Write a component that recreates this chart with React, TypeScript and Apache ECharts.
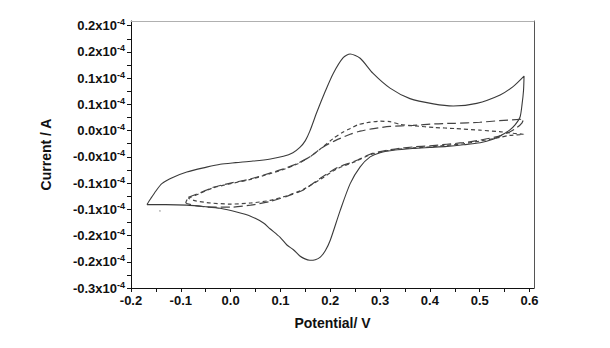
import React, { useEffect, useRef } from "react";
import * as echarts from "echarts";

// Tick positions and labels (current in units of 1e-4 A)
const X_TICKS = [-0.2, -0.1, 0.0, 0.1, 0.2, 0.3, 0.4, 0.5, 0.6];
const X_LABELS = ["-0.2", "-0.1", "0.0", "0.1", "0.2", "0.3", "0.4", "0.5", "0.6"];
const Y_TICKS = [0.225, 0.175, 0.125, 0.075, 0.025, -0.025, -0.075, -0.125, -0.175, -0.225, -0.275];
const Y_LABELS = ["0.2", "0.2", "0.1", "0.1", "0.0", "-0.0", "-0.1", "-0.1", "-0.2", "-0.2", "-0.3"];

// Solid CV loop
const SOLID_X = [
  -0.168, -0.160, -0.150, -0.138, -0.115, -0.088, -0.050, -0.021, 0.010, 0.045, 0.080, 0.106, 0.125, 0.139, 0.150,
  0.159, 0.173, 0.190, 0.206, 0.226, 0.240, 0.260, 0.286, 0.320, 0.360, 0.407, 0.447, 0.494, 0.541, 0.567, 0.589,
  0.588, 0.585, 0.581, 0.571, 0.560, 0.547, 0.525, 0.501, 0.467, 0.434, 0.400, 0.366, 0.330, 0.300, 0.280, 0.260,
  0.240, 0.220, 0.200, 0.190, 0.180, 0.170, 0.159, 0.148, 0.139, 0.126, 0.113, 0.099, 0.079, 0.066, 0.040, 0.012,
  -0.021, -0.050, -0.088, -0.130, -0.168,
];
const SOLID_Y = [
  -0.116, -0.104, -0.090, -0.076, -0.064, -0.054, -0.045, -0.039, -0.036, -0.033, -0.029, -0.024, -0.017, -0.007, 0.006,
  0.024, 0.060, 0.100, 0.134, 0.164, 0.171, 0.163, 0.134, 0.106, 0.086, 0.076, 0.072, 0.077, 0.093, 0.109, 0.129,
  0.102, 0.075, 0.051, 0.036, 0.026, 0.018, 0.008, 0.002, -0.002, -0.005, -0.007, -0.009, -0.012, -0.017, -0.025, -0.044,
  -0.076, -0.127, -0.184, -0.204, -0.216, -0.221, -0.222, -0.219, -0.214, -0.202, -0.193, -0.178, -0.162, -0.151, -0.138, -0.130,
  -0.123, -0.120, -0.117, -0.116, -0.116,
];

// Short-dash CV loop
const SHORT_X = [
  -0.085, -0.060, -0.035, 0.000, 0.040, 0.079, 0.106, 0.135, 0.159, 0.180, 0.206, 0.225, 0.240, 0.255, 0.273, 0.300,
  0.320, 0.340, 0.370, 0.410, 0.450, 0.500, 0.540, 0.567, 0.588,
  0.575, 0.560, 0.540, 0.500, 0.467, 0.434, 0.400, 0.366, 0.330, 0.300, 0.280, 0.250, 0.213, 0.180, 0.146, 0.110,
  0.079, 0.040, 0.000, -0.040, -0.070, -0.085,
];
const SHORT_Y = [
  -0.104, -0.094, -0.084, -0.076, -0.068, -0.057, -0.049, -0.038, -0.025, -0.010, 0.010, 0.022, 0.029, 0.036, 0.040, 0.043,
  0.042, 0.037, 0.034, 0.031, 0.029, 0.026, 0.023, 0.020, 0.018,
  0.017, 0.016, 0.012, 0.005, 0.000, -0.003, -0.006, -0.008, -0.011, -0.016, -0.021, -0.034, -0.048, -0.068, -0.087, -0.100,
  -0.108, -0.113, -0.115, -0.113, -0.109, -0.104,
];

// Long-dash CV loop
const LONG_X = [
  -0.085, -0.060, -0.035, 0.000, 0.040, 0.079, 0.106, 0.135, 0.159, 0.186, 0.210, 0.240, 0.260, 0.287, 0.320, 0.366,
  0.410, 0.450, 0.500, 0.540, 0.588,
  0.585, 0.575, 0.561, 0.541, 0.501, 0.467, 0.434, 0.400, 0.367, 0.330, 0.300, 0.280, 0.250, 0.213, 0.180, 0.146,
  0.110, 0.079, 0.040, 0.000, -0.040, -0.070, -0.090, -0.085,
];
const LONG_Y = [
  -0.102, -0.093, -0.083, -0.075, -0.067, -0.056, -0.048, -0.037, -0.025, -0.006, 0.006, 0.018, 0.024, 0.029, 0.033, 0.035,
  0.038, 0.039, 0.041, 0.044, 0.047,
  0.040, 0.031, 0.023, 0.015, 0.007, 0.002, -0.001, -0.004, -0.006, -0.010, -0.015, -0.020, -0.033, -0.046, -0.066, -0.088,
  -0.101, -0.110, -0.117, -0.121, -0.121, -0.118, -0.112, -0.102,
];

const STRAY_X = [-0.142];
const STRAY_Y = [-0.128];

const zip = (xs: number[], ys: number[]) => xs.map((x, i) => [x, ys[i]]);

const FONT = "Liberation Sans, Arial, sans-serif";

export default function App() {
  const ref = useRef<HTMLDivElement>(null);
  useEffect(() => {
    if (!ref.current) return;
    const chart = echarts.init(ref.current, null, { renderer: "svg" });
    const xMinor = X_TICKS.slice(0, -1).map((v, i) => (v + X_TICKS[i + 1]) / 2);
    const yMinor = Y_TICKS.slice(0, -1).map((v, i) => (v + Y_TICKS[i + 1]) / 2);
    const xMin = -0.2;
    const xMax = 0.609;
    const yMin = -0.275;
    const yMax = 0.234;
    chart.setOption({
      animation: false,
      backgroundColor: "#ffffff",
      grid: { left: 131, right: 76, top: 21, bottom: 60, containLabel: false },
      xAxis: [
        {
          type: "value",
          min: xMin,
          max: xMax,
          position: "bottom",
          name: "Potential/ V",
          nameLocation: "middle",
          nameGap: 28,
          nameTextStyle: { fontFamily: FONT, fontWeight: "bold", fontSize: 14, color: "#111" },
          axisLine: { show: true, onZero: false, lineStyle: { color: "#111", width: 1 } },
          axisTick: { show: true, length: 4, customValues: [...X_TICKS, ...xMinor], lineStyle: { color: "#111" } },
          axisLabel: {
            show: true,
            customValues: X_TICKS,
            margin: 6,
            fontFamily: FONT,
            fontWeight: "bold",
            fontSize: 13,
            color: "#111",
            formatter: (v: number) => X_LABELS[Math.round((v - X_TICKS[0]) / 0.1)] ?? "",
          },
          splitLine: { show: false },
        },
        {
          type: "value",
          min: xMin,
          max: xMax,
          position: "top",
          axisLine: { show: true, onZero: false, lineStyle: { color: "#b0b0b0", width: 1 } },
          axisTick: { show: false },
          axisLabel: { show: false },
          splitLine: { show: false },
        },
      ],
      yAxis: [
        {
          type: "value",
          min: yMin,
          max: yMax,
          position: "left",
          name: "Current / A",
          nameLocation: "middle",
          nameGap: 78,
          nameRotate: 90,
          nameTextStyle: { fontFamily: FONT, fontWeight: "bold", fontSize: 14, color: "#111" },
          axisLine: { show: true, onZero: false, lineStyle: { color: "#111", width: 1 } },
          axisTick: { show: true, length: 4, customValues: [...Y_TICKS, ...yMinor], lineStyle: { color: "#111" } },
          axisLabel: {
            show: true,
            customValues: Y_TICKS,
            margin: 6,
            color: "#111",
            formatter: (v: number) => {
              const idx = Math.round((Y_TICKS[0] - v) / 0.05);
              return `{b|${Y_LABELS[idx] ?? ""}x10}{s|-4}`;
            },
            rich: {
              b: { fontFamily: FONT, fontWeight: "bold", fontSize: 13, color: "#111" },
              s: { fontFamily: FONT, fontWeight: "bold", fontSize: 9, color: "#111", padding: [0, 0, 7, 0] },
            },
          },
          splitLine: { show: false },
        },
        {
          type: "value",
          min: yMin,
          max: yMax,
          position: "right",
          axisLine: { show: true, onZero: false, lineStyle: { color: "#555", width: 1 } },
          axisTick: { show: false },
          axisLabel: { show: false },
          splitLine: { show: false },
        },
      ],
      series: [
        {
          name: "solid",
          type: "line",
          data: zip(SOLID_X, SOLID_Y),
          showSymbol: false,
          smooth: 0.25,
          lineStyle: { color: "#3a3a3a", width: 1.1, type: "solid" },
        },
        {
          name: "short dash",
          type: "line",
          data: zip(SHORT_X, SHORT_Y),
          showSymbol: false,
          smooth: 0.25,
          lineStyle: { color: "#444", width: 1.2, type: [4, 3] },
        },
        {
          name: "long dash",
          type: "line",
          data: zip(LONG_X, LONG_Y),
          showSymbol: false,
          smooth: 0.25,
          lineStyle: { color: "#444", width: 1.2, type: [9, 4] },
        },
        {
          name: "stray",
          type: "scatter",
          data: zip(STRAY_X, STRAY_Y),
          symbolSize: 1.5,
          itemStyle: { color: "#888" },
        },
      ],
    });
    return () => chart.dispose();
  }, []);
  return <div ref={ref} style={{ width: 610, height: 348, marginLeft: -8, marginTop: -8 }} />;
}
